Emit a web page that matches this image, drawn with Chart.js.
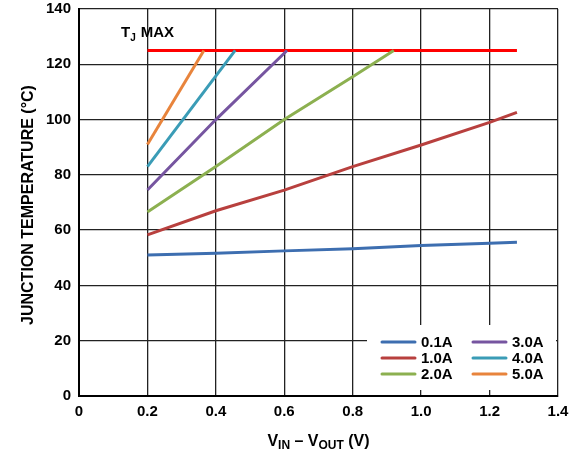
<!DOCTYPE html>
<html>
<head>
<meta charset="utf-8">
<script src="https://cdn.jsdelivr.net/npm/chart.js@4.4.1/dist/chart.umd.min.js"></script>
<style>
  html, body { margin: 0; padding: 0; background: #fff; }
  #wrap { width: 570px; height: 453px; }
</style>
</head>
<body>
<div id="wrap"><canvas id="myChart" width="570" height="453"></canvas></div>
<script>
// DATA
const xTicks = [0, 0.2, 0.4, 0.6, 0.8, 1.0, 1.2, 1.4];
const yTicks = [0, 20, 40, 60, 80, 100, 120, 140];

const seriesNames = ["0.1A", "1.0A", "2.0A", "3.0A", "4.0A", "5.0A"];
const seriesColors = ["#3d6eb0", "#b8403e", "#8cb050", "#7655a0", "#3a9cb6", "#e8843c"];

const v01 = [0.2, 0.4, 0.6, 0.8, 1.0, 1.2, 1.28];
const t01 = [51, 51.6, 52.5, 53.3, 54.4, 55.3, 55.6];
const v10 = [0.2, 0.4, 0.6, 0.8, 1.0, 1.2, 1.28];
const t10 = [58.3, 67, 74.5, 83, 90.8, 99, 102.6];
const v20 = [0.2, 0.4, 0.6, 0.8, 0.92];
const t20 = [66.6, 83, 100, 115.5, 125];
const v30 = [0.2, 0.4, 0.608];
const t30 = [74.5, 100, 125];
const v40 = [0.2, 0.4565];
const t40 = [83, 125];
const v50 = [0.2, 0.365];
const t50 = [91, 125];
const vMax = [0.2, 1.28];
const tMax = [125, 125];

const FONT = '"Liberation Sans", Arial, sans-serif';

function pts(xs, ys) {
    return xs.map(function (x, i) { return { x: x, y: ys[i] }; });
}

const seriesData = [pts(v01, t01), pts(v10, t10), pts(v20, t20), pts(v30, t30), pts(v40, t40), pts(v50, t50)];

const datasets = seriesNames.map(function (name, i) {
    return {
        label: name,
        data: seriesData[i],
        borderColor: seriesColors[i],
        borderWidth: 3,
        pointRadius: 0,
        tension: 0,
        fill: false,
    };
});
datasets.push({
    label: "TJ MAX",
    data: pts(vMax, tMax),
    borderColor: "#ff0000",
    borderWidth: 3,
    pointRadius: 0,
    tension: 0,
    fill: false,
});

// draws legend box, T_J MAX label and axis titles with subscripts
const decorPlugin = {
    id: "decor",
    afterDatasetsDraw: function (chart) {
        const ctx = chart.ctx;
        ctx.save();
        // legend box (hides grid underneath)
        ctx.fillStyle = "#fff";
        ctx.fillRect(367, 325, 189, 65);
        ctx.font = "bold 15px " + FONT;
        ctx.textBaseline = "middle";
        ctx.textAlign = "left";
        const rowsY = [342, 358, 374];
        seriesNames.forEach(function (name, i) {
            const col = Math.floor(i / 3);
            const row = i % 3;
            const lx = col === 0 ? 382 : 473;
            const y = rowsY[row];
            ctx.strokeStyle = seriesColors[i];
            ctx.lineWidth = 3;
            ctx.lineCap = "round";
            ctx.beginPath();
            ctx.moveTo(lx, y);
            ctx.lineTo(lx + 33, y);
            ctx.stroke();
            ctx.fillStyle = "#000";
            ctx.fillText(name, lx + 39, y + 1);
        });

        // T_J MAX
        ctx.textBaseline = "alphabetic";
        ctx.fillStyle = "#000";
        let x = 121;
        ctx.font = "bold 15px " + FONT;
        ctx.fillText("T", x, 37);
        x += ctx.measureText("T").width;
        ctx.font = "bold 10px " + FONT;
        ctx.fillText("J", x, 41);
        x += ctx.measureText("J").width + 5;
        ctx.font = "bold 15px " + FONT;
        ctx.fillText("MAX", x, 37);

        // x title: V_IN – V_OUT (V)
        const parts = [["V", 0], ["IN", 1], [" \u2013 V", 0], ["OUT", 1], [" (V)", 0]];
        let total = 0;
        parts.forEach(function (p) {
            ctx.font = (p[1] ? "bold 12px " : "bold 16px ") + FONT;
            total += ctx.measureText(p[0]).width;
        });
        x = (chart.chartArea.left + chart.chartArea.right) / 2 - total / 2;
        parts.forEach(function (p) {
            ctx.font = (p[1] ? "bold 12px " : "bold 16px ") + FONT;
            ctx.fillText(p[0], x, p[1] ? 449 : 446);
            x += ctx.measureText(p[0]).width;
        });

        // y title
        ctx.translate(33, 205);
        ctx.rotate(-Math.PI / 2);
        ctx.textAlign = "center";
        ctx.font = "bold 16px " + FONT;
        ctx.fillText("JUNCTION TEMPERATURE (\u00B0C)", 0, 0);
        ctx.restore();
    },
};

const ctx1 = document.getElementById("myChart").getContext("2d");
const myChart = new Chart(ctx1, {
    type: "line",
    data: { datasets: datasets },
    plugins: [decorPlugin],
    options: {
        responsive: false,
        animation: false,
        layout: { padding: { top: 9, right: 12, left: 0, bottom: 0 } },
        plugins: {
            legend: { display: false },
            tooltip: { enabled: false },
        },
        scales: {
            x: {
                type: "linear",
                min: 0,
                max: 1.4,
                afterFit: function (scale) {
                    scale.height = 57;
                    scale.paddingLeft = 0;
                    scale.paddingRight = 0;
                },
                afterBuildTicks: function (scale) {
                    scale.ticks = xTicks.map(function (v) { return { value: v }; });
                },
                ticks: {
                    color: "#000",
                    font: { family: FONT, size: 15, weight: "bold" },
                    padding: 7,
                    maxRotation: 0,
                    callback: function (v) { return v === 0 ? "0" : Number(v).toFixed(1); },
                },
                grid: { color: "#222", lineWidth: 1.3, drawTicks: false },
                border: { color: "#000", width: 2 },
            },
            y: {
                min: 0,
                max: 140,
                afterFit: function (scale) {
                    scale.width = 79;
                    scale.paddingTop = 0;
                    scale.paddingBottom = 0;
                },
                afterBuildTicks: function (scale) {
                    scale.ticks = yTicks.map(function (v) { return { value: v }; });
                },
                ticks: {
                    color: "#000",
                    font: { family: FONT, size: 15, weight: "bold" },
                    padding: 8,
                },
                grid: { color: "#222", lineWidth: 1.3, drawTicks: false },
                border: { color: "#000", width: 2 },
            },
        },
    },
});
</script>
</body>
</html>
